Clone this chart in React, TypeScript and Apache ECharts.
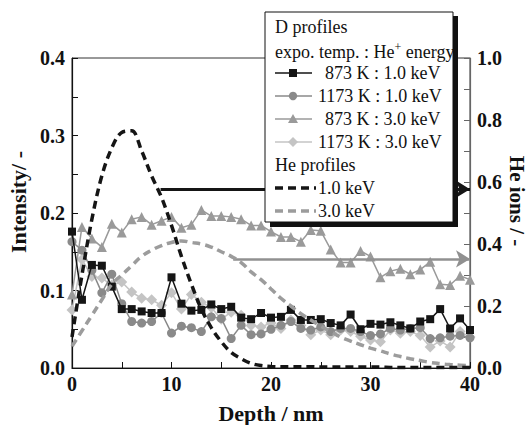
import React, { useEffect, useRef } from "react";
import * as echarts from "echarts";

const depth = [0,1,2,3,4,5,6,7,8,9,10,11,12,13,14,15,16,17,18,19,20,21,22,23,24,25,26,27,28,29,30,31,32,33,34,35,36,37,38,39,40];

const d873k1 = [0.176,0.088,0.133,0.132,0.105,0.076,0.076,0.073,0.071,0.071,0.117,0.083,0.074,0.075,0.082,0.076,0.079,0.065,0.063,0.071,0.065,0.066,0.075,0.062,0.062,0.063,0.058,0.055,0.069,0.050,0.057,0.056,0.059,0.055,0.051,0.060,0.063,0.076,0.051,0.064,0.049];
const d1173k1 = [0.163,0.152,0.126,0.097,0.121,0.083,0.060,0.058,0.060,0.071,0.045,0.054,0.052,0.047,0.066,0.064,0.038,0.055,0.043,0.044,0.050,0.055,0.060,0.051,0.049,0.053,0.047,0.051,0.051,0.047,0.042,0.044,0.051,0.049,0.051,0.052,0.038,0.039,0.041,0.042,0.039];
const d873k3 = [0.095,0.182,0.167,0.156,0.186,0.175,0.192,0.195,0.185,0.190,0.195,0.181,0.185,0.204,0.196,0.196,0.195,0.192,0.184,0.184,0.176,0.169,0.169,0.163,0.178,0.177,0.153,0.136,0.136,0.151,0.144,0.117,0.125,0.128,0.121,0.127,0.137,0.108,0.107,0.119,0.114];
const d1173k3 = [0.075,0.140,0.118,0.116,0.107,0.111,0.098,0.090,0.088,0.081,0.097,0.076,0.095,0.085,0.078,0.063,0.072,0.068,0.055,0.053,0.058,0.051,0.062,0.055,0.043,0.049,0.043,0.049,0.047,0.041,0.036,0.034,0.049,0.045,0.047,0.042,0.027,0.035,0.027,0.047,0.040];
const he1 = [0.10,0.30,0.48,0.62,0.71,0.76,0.765,0.70,0.62,0.55,0.46,0.36,0.27,0.19,0.13,0.085,0.05,0.03,0.015,0.008,0.005,0.004,0.004,0.004,0.004,0.003,0.003,0.003,0.003,0.003,0.003,0.003,0.002,0.002,0.002,0.002,0.002,0.002,0.002,0.002,0.002];
const he3 = [0.07,0.12,0.17,0.22,0.27,0.30,0.33,0.36,0.38,0.395,0.405,0.41,0.405,0.40,0.39,0.375,0.36,0.34,0.31,0.285,0.255,0.225,0.20,0.175,0.155,0.135,0.118,0.10,0.087,0.075,0.064,0.055,0.045,0.037,0.03,0.024,0.018,0.014,0.011,0.009,0.007];

const arrowBlack = { from: 8.9, to: 40, level: 0.577 };
const arrowGray = { from: 16.2, to: 40, level: 0.352 };

const xTicks = { min: 0, max: 40, interval: 10 };
const yLeftTicks = { min: 0, max: 0.4, interval: 0.1 };
const yRightTicks = { min: 0, max: 1.0, interval: 0.2 };

const C_BLACK = "#151515";
const C_CIRCLE = "#8a8a8a";
const C_TRI = "#9a9a9a";
const C_DIAM = "#c4c4c4";
const C_HE3 = "#9c9c9c";

const SERIF = "'Liberation Serif', 'Times New Roman', 'DejaVu Serif', serif";

const pair = (vals: number[]) => depth.map((d, i) => [d, vals[i]]);

export default function App() {
  const ref = useRef<HTMLDivElement>(null);
  useEffect(() => {
    document.body.style.margin = "0";
    const chart = echarts.init(ref.current!, null, { renderer: "svg" });
    const lblStyle = { fontFamily: SERIF, fontWeight: "bold" as const, fontSize: 20, color: "#111" };
    const nameStyle = { fontFamily: SERIF, fontWeight: "bold" as const, fontSize: 22, color: "#111" };
    const lx = 275;
    const txt = (text: string, x: number, y: number, size = 18) => ({
      type: "text", x, y, z: 110,
      style: { text, fontSize: size, fontFamily: SERIF, fill: "#111", align: "left", verticalAlign: "middle" },
    });
    const line = (y: number, color: string, width: number, dash?: number[]) => ({
      type: "line", z: 110,
      shape: { x1: lx, y1: y, x2: dash ? 316 : 312, y2: y },
      style: { stroke: color, lineWidth: width, lineDash: dash || null },
    });
    const mx = 293;
    const graphics: any[] = [
      { type: "rect", z: 100, shape: { x: 270, y: 16, width: 188, height: 211 }, style: { fill: "#111" } },
      { type: "rect", z: 101, shape: { x: 265, y: 12, width: 188, height: 210 }, style: { fill: "#fff", stroke: "#111", lineWidth: 1 } },
      txt("D profiles", lx, 27),
      {
        type: "text", x: lx, y: 51, z: 110,
        style: {
          text: "{a|expo. temp. : He}{s|+}{a| energy}",
          fill: "#111", align: "left", verticalAlign: "middle",
          rich: {
            a: { fontSize: 18, fontFamily: SERIF, fill: "#111", lineHeight: 20, verticalAlign: "bottom" },
            s: { fontSize: 12, fontFamily: SERIF, fill: "#111", lineHeight: 20, verticalAlign: "top" },
          },
        },
      },
      line(73, C_BLACK, 1.5),
      { type: "rect", z: 111, shape: { x: mx - 4, y: 69, width: 8, height: 8 }, style: { fill: C_BLACK } },
      txt("873 K : 1.0 keV", 325, 73),
      line(96, C_CIRCLE, 1.5),
      { type: "circle", z: 111, shape: { cx: mx, cy: 96, r: 4.2 }, style: { fill: C_CIRCLE } },
      txt("1173 K : 1.0 keV", 318, 96),
      line(119, C_TRI, 1.5),
      { type: "polygon", z: 111, shape: { points: [[mx, 114], [mx + 5, 123], [mx - 5, 123]] }, style: { fill: C_TRI } },
      txt("873 K : 3.0 keV", 325, 119),
      line(142, C_DIAM, 1.5),
      { type: "polygon", z: 111, shape: { points: [[mx, 137], [mx + 5, 142], [mx, 147], [mx - 5, 142]] }, style: { fill: C_DIAM } },
      txt("1173 K : 3.0 keV", 318, 142),
      txt("He profiles", lx, 165),
      line(188, C_BLACK, 3.5, [8, 5]),
      txt("1.0 keV", 318, 188),
      line(211, C_HE3, 3.5, [8, 5]),
      txt("3.0 keV", 318, 211),
      {
        type: "text", x: 517, y: 201, rotation: -Math.PI / 2, z: 50,
        style: { text: "He ions / -", fontSize: 21, fontWeight: "bold", fontFamily: SERIF, fill: "#111", align: "center", verticalAlign: "middle" },
      },
    ];

    const dataSeries = (name: string, vals: number[], color: string, symbol: string, size: number, z: number) => ({
      name, type: "line", data: pair(vals), yAxisIndex: 0, z,
      symbol, symbolSize: size, showSymbol: true,
      lineStyle: { color, width: 1.5 }, itemStyle: { color },
    });

    chart.setOption({
      animation: false,
      grid: { left: 72, right: 62, top: 58, bottom: 57, show: true, borderColor: "#333", borderWidth: 1, outerBoundsMode: "none", containLabel: false },
      xAxis: {
        type: "value", ...xTicks,
        axisLine: { lineStyle: { color: "#111", width: 1.2 } },
        axisTick: { inside: true, length: 6, lineStyle: { color: "#111" } },
        minorTick: { show: true, splitNumber: 2, length: 6, lineStyle: { color: "#111" } },
        splitLine: { show: false },
        axisLabel: { ...lblStyle, margin: 6, formatter: (v: number) => String(v) },
        name: "Depth / nm", nameLocation: "middle", nameGap: 34, nameTextStyle: nameStyle,
      },
      yAxis: [
        {
          type: "value", ...yLeftTicks, position: "left",
          axisLine: { show: true, lineStyle: { color: "#111", width: 1.2 } },
          axisTick: { show: true, inside: true, length: 6, lineStyle: { color: "#111" } },
          minorTick: { show: true, splitNumber: 2, length: 6, lineStyle: { color: "#111" } },
          splitLine: { show: false },
          axisLabel: { ...lblStyle, margin: 7, formatter: (v: number) => v.toFixed(1) },
          name: "Intensity/ -", nameLocation: "middle", nameGap: 42, nameTextStyle: { ...nameStyle, padding: [0, 0, 0, 22] },
        },
        {
          type: "value", ...yRightTicks, position: "right",
          axisLine: { show: true, lineStyle: { color: "#666", width: 1.2 } },
          axisTick: { show: true, inside: true, length: 6, lineStyle: { color: "#666" } },
          minorTick: { show: true, splitNumber: 2, length: 6, lineStyle: { color: "#666" } },
          splitLine: { show: false },
          axisLabel: { ...lblStyle, margin: 7, formatter: (v: number) => v.toFixed(1) },
        },
      ],
      series: [
        dataSeries("1173 K : 3.0 keV", d1173k3, C_DIAM, "diamond", 11, 2),
        dataSeries("873 K : 3.0 keV", d873k3, C_TRI, "triangle", 10, 3),
        dataSeries("1173 K : 1.0 keV", d1173k1, C_CIRCLE, "circle", 9, 4),
        dataSeries("873 K : 1.0 keV", d873k1, C_BLACK, "rect", 8, 5),
        {
          name: "3.0 keV", type: "line", data: pair(he3), yAxisIndex: 1, z: 6,
          symbol: "none", smooth: true,
          lineStyle: { color: C_HE3, width: 3.5, type: [8, 5] },
          markLine: {
            silent: true, symbol: ["none", "arrow"], symbolSize: [13, 14],
            label: { show: false },
            lineStyle: { color: "#909090", width: 2.5, type: "solid" },
            data: [[{ coord: [arrowGray.from, arrowGray.level] }, { coord: [arrowGray.to, arrowGray.level] }]],
          },
        },
        {
          name: "1.0 keV", type: "line", data: pair(he1), yAxisIndex: 1, z: 7,
          symbol: "none", smooth: 0.35,
          lineStyle: { color: C_BLACK, width: 3.5, type: [8, 5] },
          markLine: {
            silent: true, symbol: ["none", "arrow"], symbolSize: [13, 14],
            label: { show: false },
            lineStyle: { color: C_BLACK, width: 3, type: "solid" },
            data: [[{ coord: [arrowBlack.from, arrowBlack.level] }, { coord: [arrowBlack.to, arrowBlack.level] }]],
          },
        },
      ],
      graphic: graphics,
    });
    return () => chart.dispose();
  }, []);
  return <div ref={ref} style={{ width: 532, height: 425 }} />;
}
